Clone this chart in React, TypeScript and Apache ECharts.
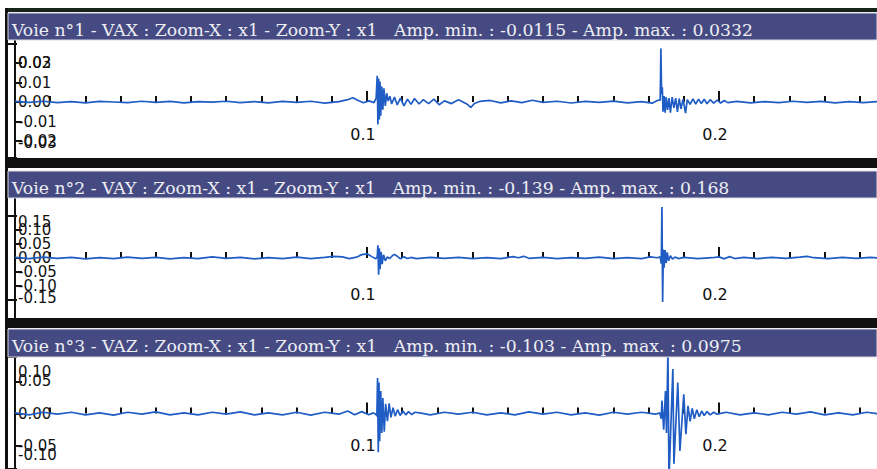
import React, { useEffect, useRef } from "react";
import * as echarts from "echarts";

// ---------- Data ----------
const titles = [
  "Voie n°1 - VAX : Zoom-X : x1 - Zoom-Y : x1   Amp. min. : -0.0115 - Amp. max. : 0.0332",
  "Voie n°2 - VAY : Zoom-X : x1 - Zoom-Y : x1   Amp. min. : -0.139 - Amp. max. : 0.168",
  "Voie n°3 - VAZ : Zoom-X : x1 - Zoom-Y : x1   Amp. min. : -0.103 - Amp. max. : 0.0975",
];

const xMinorTicks = [
  0.01, 0.02, 0.03, 0.04, 0.05, 0.06, 0.07, 0.08, 0.09, 0.1, 0.11, 0.12,
  0.13, 0.14, 0.15, 0.16, 0.17, 0.18, 0.19, 0.2, 0.21, 0.22, 0.23, 0.24,
];
const xMajorTicks = [0.1, 0.2];
const xMajorLabels = ["0.1", "0.2"];

// y tick labels: inner labels and the two end labels of each channel
const y1Inner = [-0.02, -0.01, 0, 0.01, 0.02];
const y1Ends = [-0.03, 0.03];
const y2Inner = [-0.1, -0.05, 0, 0.05, 0.1];
const y2Ends = [-0.15, 0.15];
const y3Inner = [-0.05, 0, 0.05];
const y3Ends = [-0.1, 0.1];

// Voie 1 (VAX): [time s, amplitude]
const voie1: [number, number][] = [
  [0, 0.0003], [0.004, -0.0002], [0.008, 0.0004], [0.012, -0.0003], [0.016, 0.0002],
  [0.02, -0.0004], [0.024, 0.0003], [0.028, 0], [0.032, -0.0003], [0.036, 0.0004],
  [0.04, -0.0002], [0.044, 0.0003], [0.048, -0.0004], [0.052, 0.0002], [0.056, -0.0001],
  [0.06, 0.0004], [0.064, -0.0003], [0.068, 0.0002], [0.072, -0.0004], [0.076, 0.0003],
  [0.08, -0.0002], [0.084, 0.0004], [0.088, -0.0006], [0.092, 0.0002],
  [0.0945, 0.0012], [0.096, 0.0022], [0.0975, 0.0008], [0.099, -0.0004], [0.1005, 0.0006], [0.102, -0.0003],
  [0.1026, 0.002], [0.1029, 0.0135], [0.1031, -0.0115], [0.1033, 0.012], [0.1035, -0.009],
  [0.1037, 0.0105], [0.1039, -0.007], [0.1042, 0.008], [0.1045, -0.004], [0.1048, 0.007],
  [0.1052, -0.002], [0.1056, 0.0045], [0.106, 0.0005], [0.1065, 0.003], [0.107, -0.001],
  [0.1078, 0.0025], [0.1086, -0.0015], [0.1095, 0.002], [0.1105, -0.002], [0.1115, 0.0015],
  [0.1125, -0.0012], [0.1135, 0.0018], [0.1148, -0.001], [0.116, 0.0012], [0.1175, -0.0008],
  [0.119, 0.0015], [0.1205, -0.0014], [0.122, 0.0006], [0.124, -0.0008], [0.126, 0.0012],
  [0.1285, -0.0012], [0.1295, -0.0028], [0.1305, -0.0008], [0.132, 0.0003], [0.135, 0.0008], [0.138, -0.0004],
  [0.141, 0.0006], [0.144, -0.0003], [0.147, 0.0009], [0.15, -0.0002], [0.154, 0.0004],
  [0.158, -0.0005], [0.162, 0.0003], [0.166, -0.0002], [0.17, 0.0005], [0.174, -0.0004],
  [0.178, 0.0002], [0.181, -0.0006], [0.1825, 0.0008],
  [0.1833, 0.001], [0.1835, 0.0275], [0.1837, 0.004], [0.1839, 0.0075], [0.1841, -0.005],
  [0.1844, 0.003], [0.1847, -0.0055], [0.185, 0.0025], [0.1854, -0.004], [0.1858, 0.002],
  [0.1862, -0.0055], [0.1867, 0.0025], [0.1872, -0.003], [0.1877, 0.002], [0.1882, -0.005],
  [0.1887, 0.0018], [0.1892, -0.0035], [0.1898, 0.0015], [0.1905, -0.0057], [0.191, 0.0012],
  [0.1918, -0.0012], [0.1926, 0.0016], [0.1934, -0.001], [0.1942, 0.0015], [0.195, -0.0008],
  [0.1958, 0.0014], [0.1966, -0.0009], [0.1975, 0.0012], [0.1985, -0.0006], [0.1995, 0.001],
  [0.2005, -0.0005], [0.2015, 0.0008], [0.2025, -0.0003],
  [0.205, 0.0003], [0.209, -0.0004], [0.213, 0.0002], [0.217, -0.0003], [0.221, 0.0004],
  [0.225, -0.0002], [0.229, 0.0003], [0.233, -0.0004], [0.237, 0.0002], [0.241, -0.0003],
  [0.245, 0.0002],
];

// Voie 2 (VAY)
const voie2: [number, number][] = [
  [0, 0.002], [0.004, -0.002], [0.008, 0.003], [0.012, -0.001], [0.016, 0.002],
  [0.02, -0.003], [0.024, 0.001], [0.028, -0.002], [0.032, 0.003], [0.036, -0.001],
  [0.04, 0.002], [0.044, -0.003], [0.048, 0.001], [0.052, -0.002], [0.056, 0.004],
  [0.06, -0.001], [0.064, 0.002], [0.068, -0.003], [0.072, 0.001], [0.076, -0.002],
  [0.08, 0.003], [0.084, -0.002], [0.088, 0.002], [0.0905, 0.006], [0.093, 0.004],
  [0.095, -0.002], [0.097, 0.003], [0.0985, 0.012], [0.1, 0.015], [0.1015, 0.004],
  [0.1025, -0.003],
  [0.1029, 0.004], [0.1031, 0.045], [0.1033, -0.06], [0.1035, 0.035], [0.1037, -0.04],
  [0.104, 0.022], [0.1043, -0.022], [0.1047, 0.012], [0.1052, -0.01], [0.1058, 0.004],
  [0.1064, -0.002], [0.1072, 0.008], [0.1078, 0.013], [0.1086, 0.006], [0.1095, -0.003],
  [0.1105, 0.004], [0.1115, -0.002], [0.1125, 0.002], [0.114, -0.002], [0.118, 0.002],
  [0.122, -0.001], [0.126, 0.002], [0.13, -0.002], [0.134, 0.001], [0.138, -0.002],
  [0.1415, 0.005], [0.143, 0.001], [0.1445, 0.006], [0.146, -0.001], [0.15, 0.002],
  [0.154, -0.002], [0.158, 0.001], [0.162, -0.001], [0.166, 0.003], [0.17, -0.002],
  [0.174, 0.001], [0.178, -0.002], [0.1805, 0.004], [0.1825, 0.001],
  [0.1833, 0.004], [0.1836, -0.02], [0.1838, 0.182], [0.184, -0.157], [0.1842, 0.03],
  [0.1844, -0.035], [0.1847, 0.028], [0.185, -0.018], [0.1853, 0.02], [0.1857, -0.01],
  [0.1862, 0.008], [0.1868, -0.004], [0.1875, 0.003], [0.1885, -0.002], [0.19, 0.002],
  [0.194, -0.002], [0.198, 0.001], [0.2, 0.004], [0.2015, -0.003], [0.203, 0.005],
  [0.2045, -0.002], [0.207, 0.002], [0.211, -0.002], [0.215, 0.002], [0.219, -0.001],
  [0.223, 0.003], [0.225, 0.006], [0.227, 0.001], [0.231, -0.002], [0.235, 0.002],
  [0.239, -0.001], [0.243, 0.002], [0.247, -0.001],
];

// Voie 3 (VAZ)
const voie3: [number, number][] = [
  [0, 0.001], [0.004, -0.002], [0.008, 0.002], [0.012, -0.001], [0.016, 0.002],
  [0.02, -0.002], [0.024, 0.001], [0.028, -0.0025], [0.032, 0.002], [0.036, -0.001],
  [0.04, 0.0025], [0.044, -0.002], [0.048, 0.001], [0.052, -0.002], [0.056, 0.002],
  [0.06, -0.001], [0.064, 0.0025], [0.068, -0.002], [0.072, 0.001], [0.076, -0.002],
  [0.08, 0.002], [0.084, -0.0025], [0.088, 0.002], [0.092, -0.001], [0.0945, 0.004],
  [0.0965, -0.002], [0.0985, 0.003], [0.1005, -0.002], [0.1018, 0.001], [0.1025, -0.001],
  [0.1028, -0.004], [0.103, 0.055], [0.1032, -0.06], [0.1034, 0.048], [0.1036, -0.043],
  [0.1039, 0.035], [0.1042, -0.03], [0.1045, 0.024], [0.1049, -0.028], [0.1053, 0.015],
  [0.1058, -0.012], [0.1063, 0.016], [0.1068, -0.006], [0.1074, 0.009], [0.108, -0.004],
  [0.1087, 0.006], [0.1094, -0.003], [0.1102, 0.004], [0.111, -0.002], [0.1118, 0.003],
  [0.1127, -0.0015], [0.1136, 0.002],
  [0.115, 0.001], [0.118, -0.002], [0.122, 0.002], [0.126, -0.001], [0.13, 0.002],
  [0.134, -0.002], [0.138, 0.001], [0.142, -0.002], [0.146, 0.0025], [0.15, -0.001],
  [0.154, 0.002], [0.158, -0.002], [0.162, 0.001], [0.166, -0.0025], [0.17, 0.002],
  [0.174, -0.001], [0.178, 0.002], [0.182, -0.001],
  [0.1832, 0.001], [0.1836, -0.008], [0.1838, 0.02], [0.1843, -0.025], [0.1848, 0.035],
  [0.1851, -0.03], [0.1855, 0.0975], [0.1858, -0.103], [0.1869, 0.069], [0.1872, -0.078],
  [0.1883, 0.048], [0.1889, -0.058], [0.19, 0.03], [0.1906, -0.032], [0.1912, 0.012],
  [0.1918, -0.012], [0.1924, 0.008], [0.193, -0.008], [0.1937, 0.006], [0.1944, -0.005],
  [0.1951, 0.004], [0.1958, -0.003], [0.1966, 0.003], [0.1975, -0.002], [0.1985, 0.002],
  [0.1995, -0.001], [0.202, 0.002], [0.206, -0.002], [0.21, 0.001], [0.214, -0.002],
  [0.218, 0.002], [0.222, -0.001], [0.226, 0.0025], [0.23, -0.002], [0.234, 0.001],
  [0.238, -0.002], [0.242, 0.002], [0.246, -0.001],
];

// ---------- Layout / style ----------
const X_MIN = -0.002;
const X_MAX = 0.2449;
const TRACE = "#1f5cc4";
const INK = "#111111";
const BAR = "#454a82";
const LABEL_FONT = "DejaVu Sans";

const panels = [
  { bar: 13, barH: 27, top: 40, height: 118, yMin: -0.0287, yMax: 0.0318, inner: y1Inner, ends: y1Ends, data: voie1, title: titles[0], shiftTop: 19, shiftBot: 15 },
  { bar: 171, barH: 27, top: 198, height: 120, yMin: -0.214, yMax: 0.214, inner: y2Inner, ends: y2Ends, data: voie2, title: titles[1], shiftTop: 6, shiftBot: 2 },
  { bar: 329, barH: 28, top: 357, height: 114, yMin: -0.086, yMax: 0.0877, inner: y3Inner, ends: y3Ends, data: voie3, title: titles[2], shiftTop: 15, shiftBot: 14 },
];

const Y_AXES_PER_PANEL = 3;

function fmtY(v: number) {
  if (Math.abs(v) < 1e-12) return "0.00";
  return v.toFixed(2);
}

function buildOption() {
  const grid: any[] = [];
  const xAxis: any[] = [];
  const yAxis: any[] = [];
  const series: any[] = [];
  const graphics: any[] = [];

  // window frame
  graphics.push({ type: "rect", z: 1, shape: { x: 5, y: 8, width: 872, height: 4 }, style: { fill: "#16241c" } });
  graphics.push({ type: "rect", z: 1, shape: { x: 5, y: 8, width: 3, height: 461 }, style: { fill: INK } });

  const baseText = { fontSize: 15, fontFamily: LABEL_FONT, color: INK };

  panels.forEach((p, i) => {
    grid.push({ left: 8, top: p.top, width: 869, height: p.height, containLabel: false });

    // inner labels split over two axes (alternating) so that none gets auto-hidden
    const groupA = p.inner.filter((_, k) => k % 2 === 0);
    const groupB = p.inner.filter((_, k) => k % 2 === 1);
    [groupA, groupB].forEach((vals, g) => {
      yAxis.push({
        gridIndex: i,
        type: "value",
        min: p.yMin,
        max: p.yMax,
        position: "left",
        offset: 0,
        axisLine: { show: g === 0, lineStyle: { color: INK, width: 2 } },
        axisTick: { show: true, inside: true, length: 7, customValues: vals, lineStyle: { color: INK, width: 2 } },
        axisLabel: {
          inside: true,
          margin: 10,
          customValues: vals,
          showMinLabel: true,
          showMaxLabel: true,
          hideOverlap: false,
          formatter: (v: number) => fmtY(v),
          ...baseText,
        },
        splitLine: { show: false },
      });
    });

    // end labels, clamped into the plot range
    const endVals = p.ends.map((v) => Math.min(p.yMax, Math.max(p.yMin, v)));
    yAxis.push({
      gridIndex: i,
      type: "value",
      min: p.yMin,
      max: p.yMax,
      position: "left",
      offset: 0,
      axisLine: { show: false },
      axisTick: { show: true, inside: true, length: 9, customValues: endVals, lineStyle: { color: INK, width: 2 } },
      axisLabel: {
        inside: true,
        margin: 10,
        customValues: endVals,
        showMinLabel: true,
        showMaxLabel: true,
        hideOverlap: false,
        formatter: (v: number) => {
          let k = 0;
          let best = Infinity;
          endVals.forEach((c, j) => {
            const d = Math.abs(c - v);
            if (d < best) { best = d; k = j; }
          });
          const lv = p.ends[k];
          return lv > 0 ? `{hi|${fmtY(lv)}}` : `{lo|${fmtY(lv)}}`;
        },
        ...baseText,
        rich: {
          hi: { ...baseText, padding: [p.shiftTop * 2, 0, 0, 0] },
          lo: { ...baseText, padding: [0, 0, p.shiftBot * 2, 0] },
        },
      },
      splitLine: { show: false },
    });

    xAxis.push({
      gridIndex: i,
      type: "value",
      min: X_MIN,
      max: X_MAX,
      position: "bottom",
      axisLine: { show: false },
      axisTick: { show: true, inside: true, length: 6, customValues: xMinorTicks, lineStyle: { color: INK, width: 2 } },
      axisLabel: { show: false },
      splitLine: { show: false },
    });
    xAxis.push({
      gridIndex: i,
      type: "value",
      min: X_MIN,
      max: X_MAX,
      position: "bottom",
      offset: 0,
      axisLine: { show: false },
      axisTick: { show: true, inside: true, length: 11, customValues: xMajorTicks, lineStyle: { color: INK, width: 2 } },
      axisLabel: {
        show: true,
        inside: true,
        margin: 16,
        customValues: xMajorTicks,
        formatter: (v: number) => {
          const k = xMajorTicks.findIndex((m) => Math.abs(m - v) < 1e-9);
          return k >= 0 ? xMajorLabels[k] : "";
        },
        fontSize: 16,
        fontFamily: LABEL_FONT,
        color: INK,
        padding: [0, 8, 0, 0],
      },
      splitLine: { show: false },
    });

    series.push({
      type: "line",
      name: `Voie ${i + 1}`,
      xAxisIndex: 2 * i,
      yAxisIndex: Y_AXES_PER_PANEL * i,
      data: p.data,
      symbol: "none",
      showSymbol: false,
      clip: true,
      silent: true,
      z: 3,
      lineStyle: { color: TRACE, width: 1.7 },
    });

    // title bar
    graphics.push({
      type: "rect",
      z: 10,
      shape: { x: 8, y: p.bar, width: 869, height: p.barH },
      style: { fill: BAR, stroke: "#d9d9e4", lineWidth: 1 },
    });
    graphics.push({
      type: "text",
      z: 11,
      x: 12,
      y: p.bar + 17,
      style: {
        text: p.title,
        fill: "#eeeef4",
        fontSize: 17.25,
        fontFamily: "DejaVu Serif",
        verticalAlign: "middle",
        align: "left",
      },
    });
    // dark band under plot area
    graphics.push({
      type: "rect",
      z: 1,
      shape: { x: 8, y: p.top + p.height, width: 869, height: 10 },
      style: { fill: INK },
    });
  });

  return {
    animation: false,
    backgroundColor: "#ffffff",
    grid,
    xAxis,
    yAxis,
    series,
    graphic: graphics,
  };
}

export default function App() {
  const ref = useRef<HTMLDivElement | null>(null);
  useEffect(() => {
    if (!ref.current) return;
    const chart = echarts.init(ref.current, undefined, { renderer: "svg" });
    chart.setOption(buildOption() as any);
    return () => chart.dispose();
  }, []);
  return (
    <div
      ref={ref}
      style={{ position: "absolute", left: 0, top: 0, width: 877, height: 469 }}
    />
  );
}
